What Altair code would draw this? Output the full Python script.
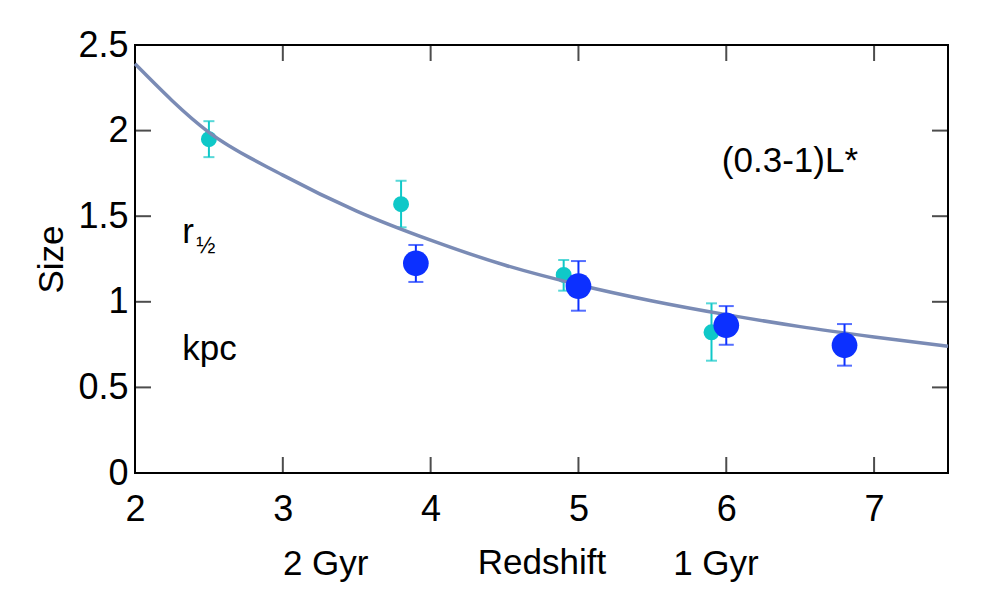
import altair as alt
import pandas as pd

# ---- data ----
cyan_z = [2.5, 3.8, 4.9, 5.9]
cyan_r = [1.95, 1.57, 1.157, 0.822]
cyan_lo = [1.845, 1.435, 1.065, 0.656]
cyan_hi = [2.055, 1.707, 1.244, 0.991]

blue_z = [3.9, 5.0, 6.0, 6.8]
blue_r = [1.225, 1.092, 0.863, 0.746]
blue_lo = [1.116, 0.948, 0.749, 0.627]
blue_hi = [1.332, 1.238, 0.975, 0.870]

curve_z = [2, 2.5, 3, 3.5, 4, 4.5, 5, 5.5, 6, 6.5, 7, 7.5]
curve_r = [2.39, 1.99, 1.74, 1.53, 1.36, 1.215, 1.10, 1.005, 0.925, 0.855, 0.795, 0.74]

x_tick_vals = [3, 4, 5, 6, 7]
y_tick_vals = [0.5, 1, 1.5, 2]
x_label_vals = [2, 3, 4, 5, 6, 7]
y_label_vals = [0, 0.5, 1, 1.5, 2, 2.5]

x_domain = [2, 7.5]
y_domain = [0, 2.5]

ann_text = ["(0.3-1)L*", "r", "kpc"]
ann_z = [5.97, 2.32, 2.32]
ann_r = [1.758, 1.343, 0.66]

half_text = ["½"]
half_z = [2.415]
half_r = [1.285]

age_text = ["2 Gyr", "1 Gyr"]
age_z = [3.29, 5.93]
age_r = [-0.596, -0.596]

# ---- tables ----
cyan = pd.DataFrame({"z": cyan_z, "r": cyan_r, "lo": cyan_lo, "hi": cyan_hi})
blue = pd.DataFrame({"z": blue_z, "r": blue_r, "lo": blue_lo, "hi": blue_hi})
curve = pd.DataFrame({"z": curve_z, "r": curve_r})
xt = pd.DataFrame({"z": x_tick_vals})
yt = pd.DataFrame({"r": y_tick_vals})
ann = pd.DataFrame({"z": ann_z, "r": ann_r, "t": ann_text})
half = pd.DataFrame({"z": half_z, "r": half_r, "t": half_text})
ages = pd.DataFrame({"z": age_z, "r": age_r, "t": age_text})

FONT = "Liberation Sans"
xs = alt.Scale(domain=x_domain, nice=False, zero=False)
ys = alt.Scale(domain=y_domain, nice=False, zero=False)

x_axis = alt.Axis(values=x_label_vals, format="d", title="Redshift", ticks=False,
                  domain=False, grid=False, labelPadding=19, labelFlush=False,
                  titleBaseline="alphabetic", titleY=100)
y_axis = alt.Axis(values=y_label_vals, format="~g", title="Size", ticks=False, domain=False,
                  grid=False, labelPadding=7, labelFlush=False,
                  titleBaseline="alphabetic", titleX=-73, titleAngle=-90)

X = lambda f="z": alt.X(f"{f}:Q", scale=xs, axis=x_axis)
Y = lambda f="r": alt.Y(f"{f}:Q", scale=ys, axis=y_axis)

CYAN = "#0fc8c8"
BLUE = "#0c30ff"
CURVE = "#7a8bb5"

cyan_bar = alt.Chart(cyan).mark_rule(color=CYAN, strokeWidth=2).encode(
    x=X(), y=Y("lo"), y2="hi:Q")
cyan_cap_lo = alt.Chart(cyan).mark_tick(color=CYAN, orient="horizontal", size=11, thickness=2).encode(
    x=X(), y=Y("lo"))
cyan_cap_hi = alt.Chart(cyan).mark_tick(color=CYAN, orient="horizontal", size=11, thickness=2).encode(
    x=X(), y=Y("hi"))
cyan_pts = alt.Chart(cyan).mark_circle(color=CYAN, opacity=1, size=254).encode(x=X(), y=Y())

line = alt.Chart(curve).mark_line(color=CURVE, strokeWidth=3.5, interpolate="monotone").encode(
    x=X(), y=Y())

blue_bar = alt.Chart(blue).mark_rule(color=BLUE, strokeWidth=2).encode(
    x=X(), y=Y("lo"), y2="hi:Q")
blue_cap_lo = alt.Chart(blue).mark_tick(color=BLUE, orient="horizontal", size=15, thickness=2).encode(
    x=X(), y=Y("lo"))
blue_cap_hi = alt.Chart(blue).mark_tick(color=BLUE, orient="horizontal", size=15, thickness=2).encode(
    x=X(), y=Y("hi"))
blue_pts = alt.Chart(blue).mark_circle(color=BLUE, opacity=1, size=660).encode(x=X(), y=Y())

# inward ticks on all four sides
tick_bottom = alt.Chart(xt).mark_tick(color="black", orient="vertical", size=16, thickness=2, yOffset=-8).encode(
    x=X(), y=alt.datum(y_domain[0], type="quantitative"))
tick_top = alt.Chart(xt).mark_tick(color="black", orient="vertical", size=16, thickness=2, yOffset=8).encode(
    x=X(), y=alt.datum(y_domain[1], type="quantitative"))
tick_left = alt.Chart(yt).mark_tick(color="black", orient="horizontal", size=16, thickness=2, xOffset=8).encode(
    y=Y(), x=alt.datum(x_domain[0], type="quantitative"))
tick_right = alt.Chart(yt).mark_tick(color="black", orient="horizontal", size=16, thickness=2, xOffset=-8).encode(
    y=Y(), x=alt.datum(x_domain[1], type="quantitative"))

ann_lbl = alt.Chart(ann).mark_text(align="left", baseline="alphabetic", font=FONT, fontSize=35,
                                   color="black").encode(x=X(), y=Y(), text="t:N")
half_lbl = alt.Chart(half).mark_text(align="left", baseline="alphabetic", font=FONT, fontSize=23,
                                     color="black").encode(x=X(), y=Y(), text="t:N")
age_lbl = alt.Chart(ages).mark_text(align="center", baseline="alphabetic", font=FONT, fontSize=35,
                                    color="black").encode(x=X(), y=Y(), text="t:N")

chart = alt.layer(
    cyan_bar, cyan_cap_lo, cyan_cap_hi, cyan_pts,
    line,
    blue_bar, blue_cap_lo, blue_cap_hi, blue_pts,
    tick_bottom, tick_top, tick_left, tick_right,
    ann_lbl, half_lbl, age_lbl,
).properties(
    width=813, height=428,
    autosize=alt.AutoSizeParams(type="none"),
    padding={"left": 127, "top": 37, "right": 40, "bottom": 113},
    background="white",
).configure_view(
    stroke="black", strokeWidth=2
).configure_axis(
    labelFont=FONT, labelFontSize=36, labelColor="black",
    titleFont=FONT, titleFontSize=35, titleFontWeight="normal", titleColor="black",
)

chart.save("out.html", embed_options={"renderer": "svg", "actions": False})
